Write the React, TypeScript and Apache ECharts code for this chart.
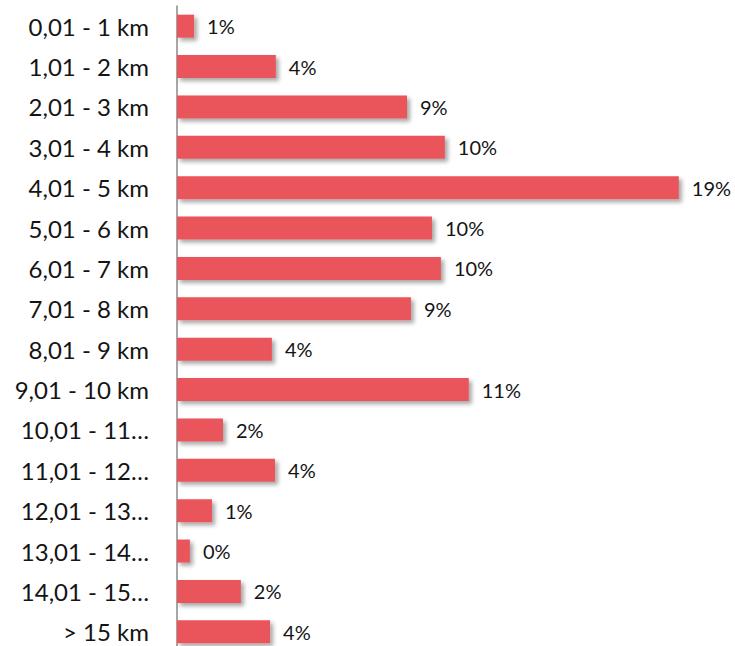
import React, { useEffect, useRef } from "react";
import * as echarts from "echarts";

const categories = [
  "0,01 - 1 km",
  "1,01 - 2 km",
  "2,01 - 3 km",
  "3,01 - 4 km",
  "4,01 - 5 km",
  "5,01 - 6 km",
  "6,01 - 7 km",
  "7,01 - 8 km",
  "8,01 - 9 km",
  "9,01 - 10 km",
  "10,01 - 11…",
  "11,01 - 12…",
  "12,01 - 13…",
  "13,01 - 14…",
  "14,01 - 15…",
  "> 15 km",
];

const shares = [
  0.65, 3.76, 8.75, 10.19, 19.09, 9.7, 10.04, 8.9, 3.61, 11.1, 1.75, 3.73, 1.33,
  0.49, 2.43, 3.54,
];

export default function App() {
  const ref = useRef<HTMLDivElement>(null);
  useEffect(() => {
    if (!ref.current) return;
    const chart = echarts.init(ref.current, null, { renderer: "svg" });
    chart.setOption({
      animation: false,
      grid: { left: 177, right: 6, top: 6, bottom: 8, containLabel: false },
      xAxis: {
        type: "value",
        min: 0,
        max: 21,
        show: false,
      },
      yAxis: {
        type: "category",
        data: categories,
        inverse: true,
        axisLine: { show: true, lineStyle: { color: "#8a8a8a", width: 1.5 } },
        axisTick: { show: false },
        axisLabel: {
          fontFamily: "Lato",
          fontSize: 24,
          color: "#141414",
          margin: 28,
        },
      },
      series: [
        {
          type: "bar",
          data: shares,
          barWidth: "57%",
          itemStyle: {
            color: "#E9555A",
            shadowColor: "rgba(0,0,0,0.35)",
            shadowBlur: 4,
            shadowOffsetX: 3,
            shadowOffsetY: 3,
          },
          label: {
            show: true,
            position: "right",
            distance: 13,
            fontFamily: "Lato",
            fontSize: 20,
            color: "#141414",
            formatter: (p: any) => Math.round(p.value) + "%",
          },
        },
      ],
    });
    return () => chart.dispose();
  }, []);
  return (
    <div
      ref={ref}
      style={{ position: "fixed", left: 0, top: 0, width: 735, height: 660, background: "#fff" }}
    />
  );
}
